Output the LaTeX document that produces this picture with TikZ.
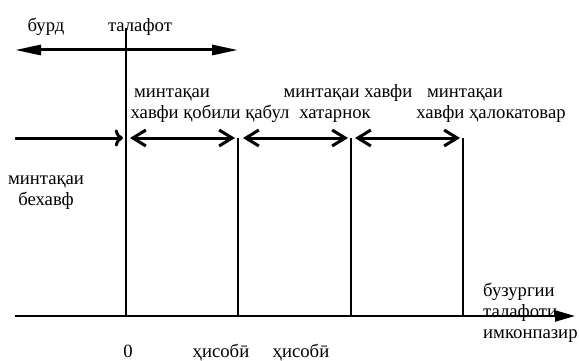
\documentclass[tikz,border=0pt]{standalone}
\usepackage{fontspec}
\setmainfont{Liberation Serif}
\usetikzlibrary{arrows.meta}

\begin{document}
\begin{tikzpicture}[x=1pt,y=-1pt,
    every node/.style={inner sep=0pt,font=\fontsize{18.7}{21}\selectfont},
    wall/.style={line width=2.2pt},
    lossarrow/.style={line width=3pt,{Triangle[length=26pt,width=10pt]}-{Triangle[length=26pt,width=10pt]}},
    zonearrow/.style={line width=3pt,{Straight Barb[length=13pt,width=16pt]}-{Straight Barb[length=13pt,width=16pt]}},
    axisarrow/.style={line width=2.2pt,-{Triangle[length=20pt,width=11pt]}}]
                        \useasboundingbox (0,0) rectangle (579,361);
                        % points on the axis and on the zone row
                        \coordinate (top) at (126,28);
                        \coordinate (zero) at (126,316);
                        \coordinate (axL) at (15,316);
                        \coordinate (axR) at (575,316);
                        \coordinate (lossL) at (15,50);
                        \coordinate (lossR) at (238,50);
                        \coordinate (b0) at (15,138);
                        \coordinate (b1) at (126,138);
                        \coordinate (b2) at (238,138);
                        \coordinate (b3) at (351,138);
                        \coordinate (b4) at (463,138);
                        \draw [wall] (top) -- (zero);
                        \foreach \b in {b2,b3,b4}
                        {
                            \draw [wall] (\b) -- (\b |- zero);
                        }
                        \draw [axisarrow] (axL) -- (axR);
                        \draw [lossarrow] (lossL) -- (lossR);
                        \draw [zonearrow, <-, shorten >=0pt, shorten <=3pt] (b1) -- (b0);
                        \draw [zonearrow, shorten <=4pt, shorten >=3pt] (b1) -- (b2);
                        \draw [zonearrow, shorten <=5pt, shorten >=3pt] (b2) -- (b3);
                        \draw [zonearrow, shorten <=4pt, shorten >=3pt] (b3) -- (b4);
                        % labels
                        \node (burd) [anchor=base] at (46,32) {бурд};
                        \node (talafot) [anchor=base] at (140,32) {талафот};
                        \node (zone1a) [anchor=base] at (172,98) {минтақаи};
                        \node (zone1b) [anchor=base] at (210,118) {хавфи қобили қабул};
                        \node (zone2a) [anchor=base] at (348,98) {минтақаи хавфи};
                        \node (zone2b) [anchor=base] at (335,118) {хатарнок};
                        \node (zone3a) [anchor=base] at (465,98) {минтақаи};
                        \node (zone3b) [anchor=base] at (491,118) {хавфи ҳалокатовар};
                        \node (safe) [anchor=base, align=center] at (46,205) {минтақаи\\бехавф};
                        \node (size) [anchor=base west, align=left] at (483,338) {бузургии\\талафоти\\имконпазир};
                        \node (lab0) [anchor=base] at (128,357) {0};
                        \node (calc1) [anchor=base] at (221,357) {ҳисобӣ};
                        \node (calc2) [anchor=base] at (301,357) {ҳисобӣ};
                    \end{tikzpicture}
\end{document}
